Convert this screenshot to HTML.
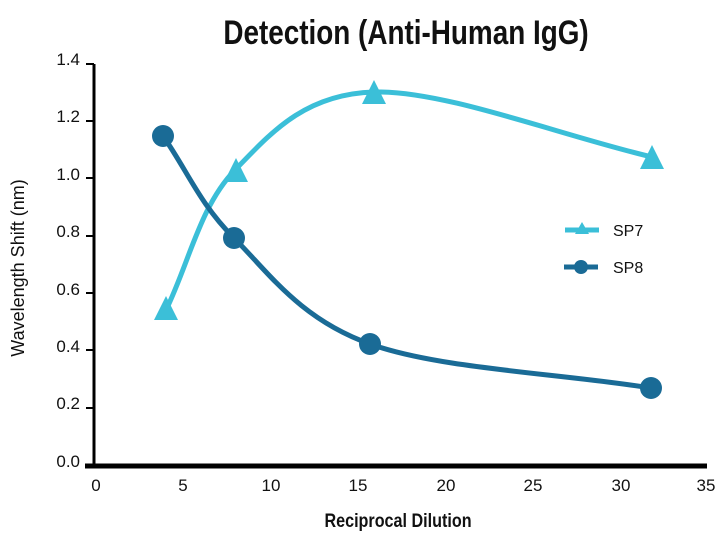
<!DOCTYPE html>
<html><head><style>
body{margin:0;background:#fff;}
svg text{font-family:"Liberation Sans",sans-serif;}
</style></head><body>
<svg width="725" height="544" viewBox="0 0 725 544">
<rect width="725" height="544" fill="#fff"/>
<text x="0" y="0" font-size="34" font-weight="bold" fill="#111" text-anchor="middle" transform="translate(406,44) scale(0.82,1)">Detection (Anti-Human IgG)</text>
<g stroke="#000" fill="none">
<line x1="94" y1="64" x2="94" y2="466" stroke-width="3"/>
<line x1="85" y1="466" x2="707" y2="466" stroke-width="5"/>
<g stroke-width="2">
<line x1="86" y1="64" x2="94" y2="64"/><line x1="86" y1="121" x2="94" y2="121"/>
<line x1="86" y1="178" x2="94" y2="178"/><line x1="86" y1="236" x2="94" y2="236"/>
<line x1="86" y1="293" x2="94" y2="293"/><line x1="86" y1="350" x2="94" y2="350"/>
<line x1="86" y1="408" x2="94" y2="408"/>
</g></g>
<g font-size="17" fill="#111" text-anchor="end">
<text x="80" y="65">1.4</text><text x="80" y="122">1.2</text><text x="80" y="180">1.0</text>
<text x="80" y="237">0.8</text><text x="80" y="295">0.6</text><text x="80" y="352">0.4</text>
<text x="80" y="409">0.2</text><text x="80" y="467">0.0</text>
</g>
<g font-size="17" fill="#111" text-anchor="middle">
<text x="96" y="491">0</text><text x="183" y="491">5</text><text x="271" y="491">10</text>
<text x="358" y="491">15</text><text x="446" y="491">20</text><text x="533" y="491">25</text>
<text x="621" y="491">30</text><text x="706" y="491">35</text>
</g>
<text x="0" y="0" font-size="19" font-weight="bold" fill="#111" text-anchor="middle" transform="translate(398,527) scale(0.85,1)">Reciprocal Dilution</text>
<text x="0" y="0" font-size="18" fill="#111" text-anchor="middle" transform="translate(24,268) rotate(-90)">Wavelength Shift (nm)</text>
<path d="M166,310 C189,263 200,206 235,170 C270,134 304,94 374,92 C444,90 559,135 652,157" stroke="#3bbfd8" stroke-width="5" fill="none"/>
<path d="M163,136 C187,170 199,203 234,238 C269,273 300,319 370,344 C440,369 557,373 651,388" stroke="#1a6b96" stroke-width="5" fill="none"/>
<g fill="#3bbfd8">
<polygon points="166,296 154,320 178,320"/><polygon points="236,158 224,182 248,182"/>
<polygon points="374,80 362,104 386,104"/><polygon points="652,145 640,169 664,169"/>
</g>
<g fill="#1a6b96">
<circle cx="163" cy="136" r="11"/><circle cx="234" cy="238" r="11"/>
<circle cx="370" cy="344" r="11"/><circle cx="651" cy="388" r="11"/>
</g>
<line x1="565" y1="230" x2="599" y2="230" stroke="#3bbfd8" stroke-width="5"/>
<polygon points="582,222 575,234 589,234" fill="#3bbfd8"/>
<line x1="564" y1="267" x2="598" y2="267" stroke="#1a6b96" stroke-width="5"/>
<circle cx="581" cy="267" r="7" fill="#1a6b96"/>
<text x="613" y="236" font-size="16" fill="#111">SP7</text>
<text x="613" y="273" font-size="16" fill="#111">SP8</text>
</svg>
</body></html>
